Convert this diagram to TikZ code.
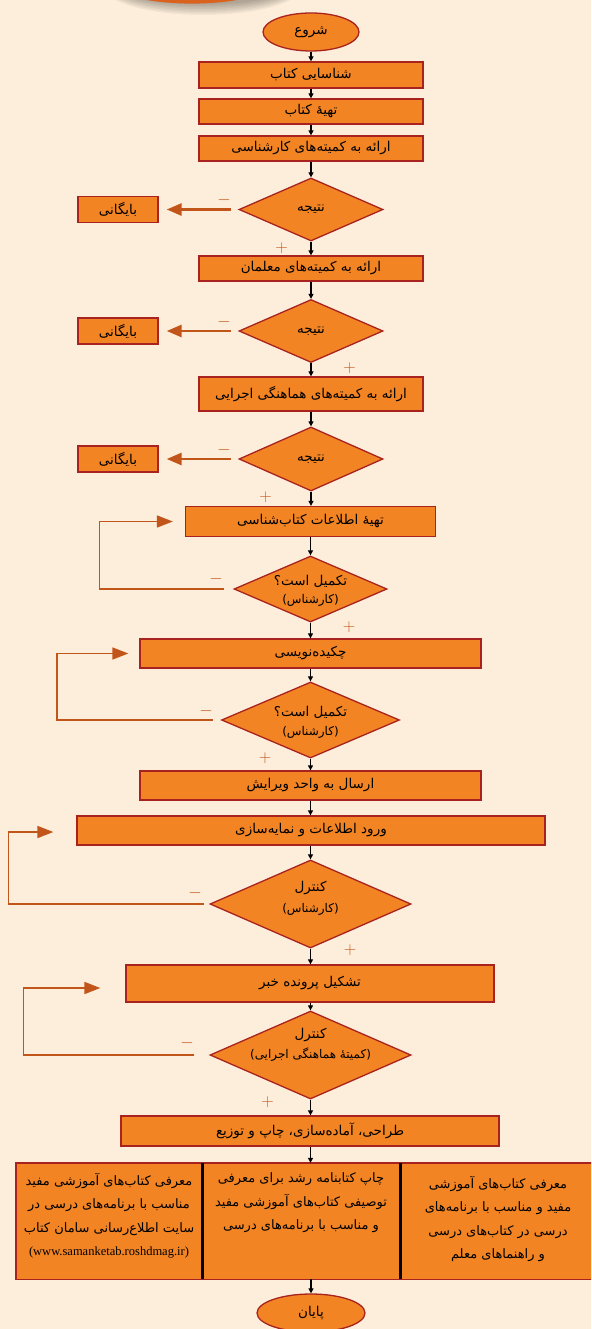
\documentclass[tikz,border=0pt]{standalone}
\usepackage{fontspec}
\newfontfamily\arabicfont[Script=Arabic]{DejaVu Sans}
\newfontfamily\urlfont{Liberation Serif}
\TeXXeTstate=1
\usetikzlibrary{shapes.geometric,arrows.meta}
\newcommand{\fa}[1]{{\arabicfont\beginR #1\endR}}
\definecolor{bgc}{HTML}{FDEEDB}
\definecolor{boxor}{HTML}{F28424}
\definecolor{brd}{HTML}{A8231F}
\definecolor{arr}{HTML}{C2561A}
\definecolor{deco}{HTML}{D9621E}
\begin{document}
\begin{tikzpicture}[x=1pt,y=-1pt,
  proc/.style={rectangle,draw=brd,fill=boxor,line width=1.3pt,inner sep=0pt,
    font=\fontsize{13.5}{15}\selectfont},
  dec/.style={diamond,draw=brd,fill=boxor,line width=1.3pt,inner sep=0pt},
  term/.style={ellipse,draw=brd,fill=boxor,line width=1.3pt,inner sep=0pt,
    font=\fontsize{13.5}{15}\selectfont},
  lbl/.style={inner sep=0pt,font=\fontsize{13.5}{15}\selectfont},
  sublbl/.style={inner sep=0pt,font=\fontsize{12}{14}\selectfont},
  cell/.style={rectangle,fill=boxor,inner sep=0pt,font=\fontsize{13}{23.5}\selectfont},
  flow/.style={-{Triangle[length=5pt,width=5pt]},line width=1.2pt,black},
  rej/.style={-{Triangle[length=15pt,width=12pt]},line width=2.7pt,draw=arr},
  back/.style={-{Triangle[length=16pt,width=12pt]},line width=1.7pt,draw=arr},
  sgn/.style={inner sep=0pt,text=arr,font=\fontsize{19}{19}\selectfont}]
\clip (0,0) rectangle (591,1329);
\fill[bgc] (0,0) rectangle (591,1329);
% top decoration with soft shadow
\foreach \i in {0,...,7}{
  \fill[black,opacity=0.045] (203,-14) ellipse ({100-2*\i} and {29-1.5*\i});
}
\fill[deco] (192,-17) ellipse (80 and 20.6);

% main column
\node[term,minimum width=96pt,minimum height=38pt] (start) at (311,32) {\fa{شروع}};
\node[proc,minimum width=224pt,minimum height=26pt] (b1) at (311,75) {\fa{شناسایی کتاب}};
\node[proc,minimum width=224pt,minimum height=25pt] (b2) at (311,111.5) {\fa{تهیهٔ کتاب}};
\node[proc,minimum width=224pt,minimum height=25pt] (b3) at (311,148.5) {\fa{ارائه به کمیته^^^^200cهای کارشناسی}};
\node[dec,minimum width=144pt,minimum height=63pt] (d1) at (311,209.5) {};
\node[lbl] (d1t) at (d1) {\fa{نتیجه}};
\node[proc,minimum width=80pt,minimum height=26pt] (a1) at (118,209.5) {\fa{بایگانی}};
\node[proc,minimum width=224pt,minimum height=25pt] (b4) at (311,268.5) {\fa{ارائه به کمیته^^^^200cهای معلمان}};
\node[dec,minimum width=144pt,minimum height=63pt] (d2) at (311,331) {};
\node[lbl] (d2t) at (d2) {\fa{نتیجه}};
\node[proc,minimum width=80pt,minimum height=26pt] (a2) at (118,331) {\fa{بایگانی}};
\node[proc,minimum width=224pt,minimum height=34pt] (b5) at (311,394) {\fa{ارائه به کمیته^^^^200cهای هماهنگی اجرایی}};
\node[dec,minimum width=144pt,minimum height=64pt] (d3) at (311,459) {};
\node[lbl] (d3t) at (d3) {\fa{نتیجه}};
\node[proc,minimum width=80pt,minimum height=26pt] (a3) at (118,459) {\fa{بایگانی}};
\node[proc,minimum width=250pt,minimum height=30pt] (b6) at (310.5,521.5) {\fa{تهیهٔ اطلاعات کتاب^^^^200cشناسی}};
\node[dec,minimum width=153pt,minimum height=66pt] (d4) at (310.5,589) {};
\node[lbl] (d4t) at (310.5,581) {\fa{تکمیل است؟}};
\node[sublbl] (d4s) at (310.5,600) {\fa{(کارشناس)}};
\node[proc,minimum width=341pt,minimum height=29pt] (b7) at (310.5,653.5) {\fa{چکیده^^^^200cنویسی}};
\node[dec,minimum width=178pt,minimum height=76pt] (d5) at (310.5,720) {};
\node[lbl] (d5t) at (310.5,712) {\fa{تکمیل است؟}};
\node[sublbl] (d5s) at (310.5,732) {\fa{(کارشناس)}};
\node[proc,minimum width=341pt,minimum height=29pt] (b8) at (310.5,785.5) {\fa{ارسال به واحد ویرایش}};
\node[proc,minimum width=468pt,minimum height=29pt] (b9) at (311,830.5) {\fa{ورود اطلاعات و نمایه^^^^200cسازی}};
\node[dec,minimum width=201pt,minimum height=88pt] (d6) at (310.5,904) {};
\node[lbl] (d6t) at (310.5,888) {\fa{کنترل}};
\node[sublbl] (d6s) at (310.5,909) {\fa{(کارشناس)}};
\node[proc,minimum width=368pt,minimum height=37pt] (b10) at (310,983.5) {\fa{تشکیل پرونده خبر}};
\node[dec,minimum width=201pt,minimum height=88pt] (d7) at (310.5,1055) {};
\node[lbl] (d7t) at (310.5,1035) {\fa{کنترل}};
\node[sublbl] (d7s) at (310.5,1055) {\fa{(کمیتهٔ هماهنگی اجرایی)}};
\node[proc,minimum width=378pt,minimum height=30pt] (b11) at (310,1131) {\fa{طراحی، آماده^^^^200cسازی، چاپ و توزیع}};

% bottom three-part box (text top-aligned in each cell)
\node[cell] (bl) at (109,1221) {\begin{minipage}[c][116pt][t]{186pt}\centering
  \vspace*{10pt}%
  \fa{معرفی کتاب^^^^200cهای آموزشی مفید}\\
  \fa{مناسب با برنامه^^^^200cهای درسی در}\\
  \fa{سایت اطلاع^^^^200cرسانی سامان کتاب}\\
  {\urlfont\fontsize{12.5}{14}\selectfont (www.samanketab.roshdmag.ir)}\end{minipage}};
\node[cell] (bm) at (301,1221) {\begin{minipage}[c][116pt][t]{198pt}\centering
  \vspace*{10pt}%
  \fa{چاپ کتابنامه رشد برای معرفی}\\
  \fa{توصیفی کتاب^^^^200cهای آموزشی مفید}\\
  \fa{و مناسب با برنامه^^^^200cهای درسی}\end{minipage}};
\node[cell] (br) at (500,1221) {\begin{minipage}[c][116pt][t]{200pt}\centering
  \vspace*{13pt}%
  \hspace*{-4pt}\fa{معرفی کتاب^^^^200cهای آموزشی}\\
  \hspace*{-4pt}\fa{مفید و مناسب با برنامه^^^^200cهای}\\
  \hspace*{-4pt}\fa{درسی در کتاب^^^^200cهای درسی}\\
  \hspace*{-4pt}\fa{و راهنماهای معلم}\end{minipage}};
\draw[brd,line width=1.4pt] (bl.north west) rectangle (br.south east);
\draw[black,line width=3pt] (bl.north east) -- (bl.south east);
\draw[black,line width=3pt] (bm.north east) -- (bm.south east);
\node[term,minimum width=108pt,minimum height=38pt] (end) at (311,1313) {\fa{پایان}};

% main flow
\draw[flow] (start.south) -- (b1.north);
\draw[flow] (b1.south) -- (b2.north);
\draw[flow] (b2.south) -- (b3.north);
\draw[flow] (b3.south) -- (d1.north);
\draw[flow] (d1.south) -- (b4.north);
\draw[flow] (b4.south) -- (d2.north);
\draw[flow] (d2.south) -- (b5.north);
\draw[flow] (b5.south) -- (d3.north);
\draw[flow] (d3.south) -- (d3.south |- b6.north);
\draw[flow] (d4.north |- b6.south) -- (d4.north);
\draw[flow] (d4.south) -- (d4.south |- b7.north);
\draw[flow] (d5.north |- b7.south) -- (d5.north);
\draw[flow] (d5.south) -- (d5.south |- b8.north);
\draw[flow] (d5.south |- b8.south) -- (d5.south |- b9.north);
\draw[flow] (d6.north |- b9.south) -- (d6.north);
\draw[flow] (d6.south) -- (d6.south |- b10.north);
\draw[flow] (d7.north |- b10.south) -- (d7.north);
\draw[flow] (d7.south) -- (d7.south |- b11.north);
\draw[flow] (d7.south |- b11.south) -- (d7.south |- bm.north);
\draw[flow] (end.north |- bm.south) -- (end.north);

% rejection arrows
\draw[rej,shorten <=7pt,shorten >=8pt] (d1.west) -- (a1.east);
\draw[rej,shorten <=7pt,shorten >=8pt] (d2.west) -- (a2.east);
\draw[rej,shorten <=7pt,shorten >=8pt] (d3.west) -- (a3.east);

% feedback loops
\draw[back,shorten <=9pt,shorten >=12pt] (d4.west) -- ++(-134,0) |- (b6.west);
\draw[back,shorten <=8pt,shorten >=11pt] (d5.west) -- ++(-164,0) |- (b7.west);
\draw[back,shorten <=5pt,shorten >=23pt] (d6.west) -- ++(-201,0) |- ([yshift=-1.5pt]b9.west);
\draw[back,shorten <=15pt,shorten >=25pt] (d7.west) -- ++(-186,0) |- ([yshift=-4.5pt]b10.west);

% signs
\node[sgn] (m1) at (224,200) {$-$};
\node[sgn] (p1) at (281.5,248) {$+$};
\node[sgn] (m2) at (224,322) {$-$};
\node[sgn] (p2) at (349.5,368) {$+$};
\node[sgn] (m3) at (224,450) {$-$};
\node[sgn] (p3) at (265.5,497) {$+$};
\node[sgn] (m4) at (216,579) {$-$};
\node[sgn] (p4) at (349,627) {$+$};
\node[sgn] (m5) at (206,711) {$-$};
\node[sgn] (p5) at (265,758) {$+$};
\node[sgn] (m6) at (195,893) {$-$};
\node[sgn] (p6) at (350,950) {$+$};
\node[sgn] (m7) at (187,1043) {$-$};
\node[sgn] (p7) at (267.5,1102) {$+$};
\end{tikzpicture}
\end{document}
